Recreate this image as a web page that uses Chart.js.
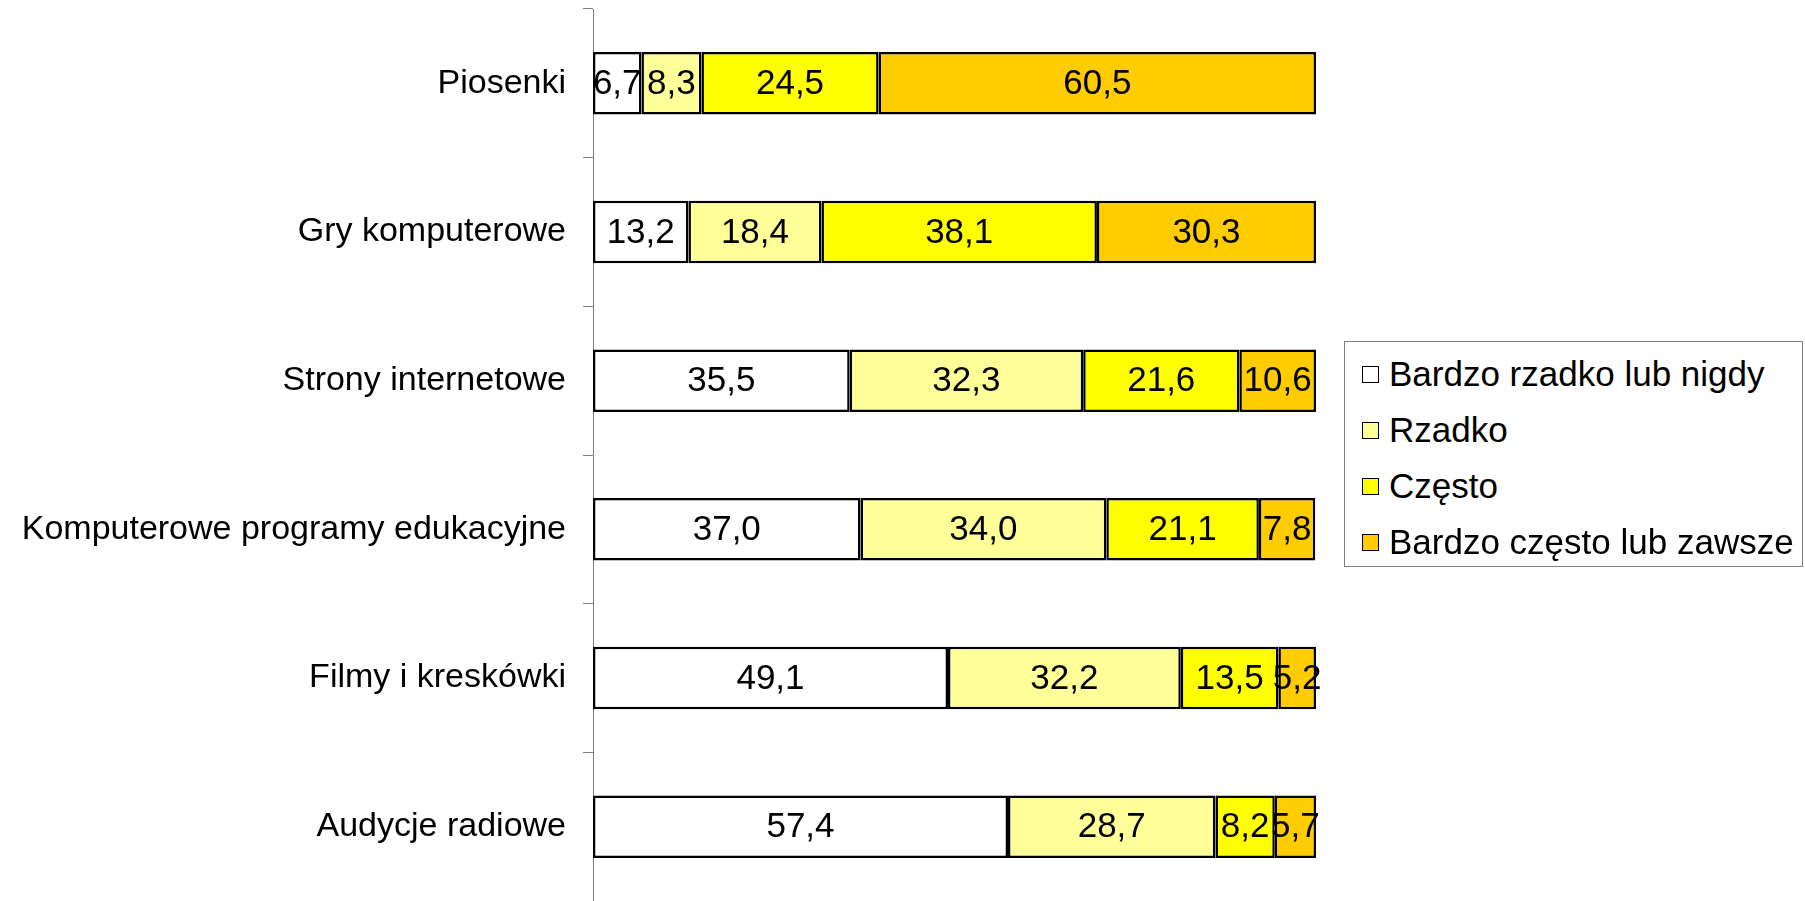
<!DOCTYPE html>
<html>
<head>
<meta charset="utf-8">
<script src="https://cdn.jsdelivr.net/npm/chart.js@4"></script>
<style>
	html, body { margin: 0; padding: 0; background: #fff; }
	#wrap { position: relative; width: 1805px; height: 901px; }
	#legend {
		position: absolute; left: 1344px; top: 341px; width: 457px; height: 224px;
		border: 1px solid #808080; background: #fff;
		font-family: "Liberation Sans", Arial, sans-serif; font-size: 35px; color: #000;
	}
	#legend .row { position: absolute; left: 0; height: 54px; line-height: 54px; white-space: nowrap; }
	#legend .box { position: absolute; left: 17px; top: 19px; width: 15px; height: 15px; border: 1px solid #000; }
	#legend .txt { position: absolute; left: 44px; top: 0; }
</style>
</head>
<body>
<div id="wrap">
	<canvas id="chart" width="1805" height="901"></canvas>
	<div id="legend"></div>
</div>
<script>
	'use strict';

	const categories = [
		'Piosenki',
		'Gry komputerowe',
		'Strony internetowe',
		'Komputerowe programy edukacyjne',
		'Filmy i kreskówki',
		'Audycje radiowe'
	];
	const seriesNames = ['Bardzo rzadko lub nigdy', 'Rzadko', 'Często', 'Bardzo często lub zawsze'];
	const bardzoRzadko = [6.7, 13.2, 35.5, 37.0, 49.1, 57.4];
	const rzadko = [8.3, 18.4, 32.3, 34.0, 32.2, 28.7];
	const czesto = [24.5, 38.1, 21.6, 21.1, 13.5, 8.2];
	const bardzoCzesto = [60.5, 30.3, 10.6, 7.8, 5.2, 5.7];
	const seriesColors = ['#FFFFFF', '#FFFF99', '#FFFF00', '#FFCC00'];

	const FONT = '"Liberation Sans", Arial, sans-serif';
	const seriesData = [bardzoRzadko, rzadko, czesto, bardzoCzesto];

	// Value labels in the middle of each segment, Polish decimal comma.
	const valueLabels = {
		id: 'valueLabels',
		afterDatasetsDraw: function(chart) {
			const ctx = chart.ctx;
			ctx.save();
			ctx.font = '35px ' + FONT;
			ctx.fillStyle = '#000';
			ctx.textAlign = 'center';
			ctx.textBaseline = 'middle';
			chart.data.datasets.forEach(function(ds, i) {
				chart.getDatasetMeta(i).data.forEach(function(bar, j) {
					const x = (bar.x + bar.base) / 2;
					ctx.fillText(ds.data[j].toFixed(1).replace('.', ','), x, bar.y + 1);
				});
			});
			ctx.restore();
		}
	};

	const datasets = seriesNames.map(function(name, i) {
		return {
			label: name,
			data: seriesData[i],
			backgroundColor: seriesColors[i],
			borderColor: '#000',
			borderWidth: 2.5,
			borderSkipped: false,
			barPercentage: 0.42,
			categoryPercentage: 1
		};
	});

	new Chart(document.getElementById('chart'), {
		type: 'bar',
		data: { labels: categories, datasets: datasets },
		options: {
			indexAxis: 'y',
			responsive: false,
			animation: false,
			layout: { padding: { top: 9, right: 489, bottom: 0, left: 0 } },
			plugins: { legend: { display: false }, tooltip: { enabled: false } },
			scales: {
				x: { stacked: true, min: 0, max: 100, display: false },
				y: {
					stacked: true,
					afterFit: function(scale) {
						// fixed axis position, no extra room for edge labels
						scale.width = 593;
						scale.paddingTop = 0;
						scale.paddingBottom = 0;
					},
					border: { display: true, color: '#808080', width: 1 },
					grid: { drawOnChartArea: false, color: '#808080', tickLength: 10, offset: true },
					ticks: { color: '#000', padding: 17, font: { family: FONT, size: 34 } }
				}
			}
		},
		plugins: [valueLabels]
	});

	// Boxed legend on the right.
	const legend = document.getElementById('legend');
	seriesNames.forEach(function(name, i) {
		const row = document.createElement('div');
		row.className = 'row';
		row.style.top = (5 + i * 56) + 'px';
		const box = document.createElement('span');
		box.className = 'box';
		box.style.background = seriesColors[i];
		const txt = document.createElement('span');
		txt.className = 'txt';
		txt.textContent = name;
		row.appendChild(box);
		row.appendChild(txt);
		legend.appendChild(row);
	});
</script>
</body>
</html>
